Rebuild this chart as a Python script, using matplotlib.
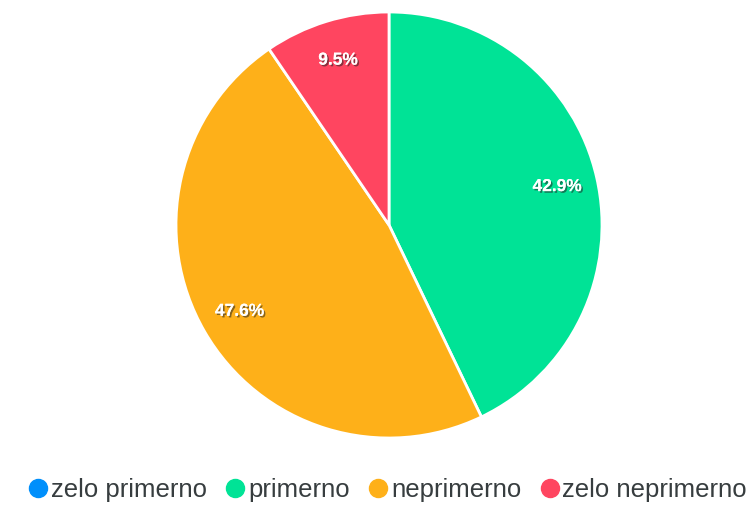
import matplotlib
matplotlib.use("Agg")
import matplotlib.pyplot as plt
import matplotlib.patheffects as pe
from matplotlib.lines import Line2D

categories = ["zelo primerno", "primerno", "neprimerno", "zelo neprimerno"]
counts = [0, 9, 10, 2]
colors = ["#008FFB", "#00E396", "#FEB019", "#FF4560"]

W, H = 751, 513
fig = plt.figure(figsize=(W / 100, H / 100), dpi=100)
fig.patch.set_facecolor("white")

cx, cy, r = 389, 225, 213
ax = fig.add_axes([(cx - r) / W, (H - cy - r) / H, 2 * r / W, 2 * r / H])
ax.set_aspect("equal")


def fmt(p):
    return "" if p < 0.05 else f"{p:.1f}%"


wedges, texts, autotexts = ax.pie(
    counts,
    colors=colors,
    startangle=90,
    counterclock=False,
    autopct=fmt,
    pctdistance=0.81,
    wedgeprops=dict(edgecolor="white", linewidth=2),
    textprops=dict(color="white", fontsize=12.5, fontweight="bold",
                   family=["Liberation Sans", "DejaVu Sans"]),
)
for t in autotexts:
    t.set_path_effects([pe.withSimplePatchShadow(offset=(1.2, -1.2), shadow_rgbFace="#222222", alpha=0.55),
                        pe.Normal()])
ax.set_xlim(-1, 1)
ax.set_ylim(-1, 1)

handles = [Line2D([0], [0], marker="o", linestyle="none", markersize=13,
                  markerfacecolor=c, markeredgecolor=c) for c in colors]
leg = fig.legend(handles, categories, loc="center", bbox_to_anchor=(0.516, 1 - 490 / H),
                 ncol=4, frameon=False, handletextpad=0.1, columnspacing=0.7,
                 handlelength=0.8,
                 prop=dict(family=["Liberation Sans", "DejaVu Sans"], size=18.5))
for t in leg.get_texts():
    t.set_color("#373d3f")

fig.savefig("out.png", dpi=100, facecolor="white")
